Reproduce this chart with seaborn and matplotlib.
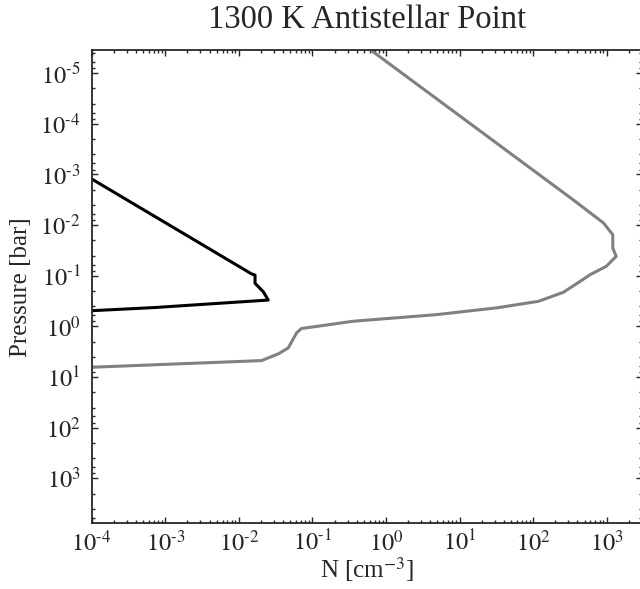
"""
plot.py

Number density profile at the antistellar point (1300 K).
"""

import math

import matplotlib
matplotlib.use("Agg")
import matplotlib.pyplot as plt
import matplotlib.ticker as mticker
import seaborn as sns

# --------------------------------
# data

black_n = [1e-4, 0.0149, 0.0166, 0.0166, 0.0215, 0.0251, 7e-4, 1e-4]
black_p = [1.23e-3, 0.092, 0.097, 0.141, 0.207, 0.302, 0.425, 0.49]

gray_n = [0.62, 353, 906, 1210, 1210, 1345, 985, 597, 436, 258, 118, 32,
          4.9, 0.36, 0.126, 0.071, 0.061, 0.047, 0.035, 0.0204, 1e-4]
gray_p = [3.5e-6, 3.2e-3, 9.1e-3, 0.0155, 0.0283, 0.0414, 0.0653, 0.095,
          0.129, 0.212, 0.32, 0.43, 0.585, 0.79, 0.98, 1.1, 1.34, 2.65,
          3.44, 4.73, 6.4]

x_ticks = [1e-4, 1e-3, 1e-2, 1e-1, 1e0, 1e1, 1e2, 1e3]
y_ticks = [1e-5, 1e-4, 1e-3, 1e-2, 1e-1, 1e0, 1e1, 1e2, 1e3]

x_limits = (1e-4, 3e3)
y_limits = (7.7e3, 3.5e-6)

title = "1300 K Antistellar Point"
x_label = r"N [cm$^{-3}$]"
y_label = "Pressure [bar]"

# --------------------------------

sns.set_style("ticks")
plt.rcParams["font.family"] = ["Liberation Serif", "DejaVu Serif"]
plt.rcParams["mathtext.fontset"] = "stix"


def power_label(v, pos):
    return r"$10^{\text{%d}}$" % round(math.log10(v))


fig = plt.figure(figsize=(6.4, 5.89), dpi=100)
ax = fig.add_axes([91.7 / 640, 65.7 / 589, 550.1 / 640, 473.3 / 589])

sns.lineplot(x=gray_n, y=gray_p, sort=False, estimator=None,
             color="#808080", linewidth=2.2, ax=ax)
sns.lineplot(x=black_n, y=black_p, sort=False, estimator=None,
             color="black", linewidth=2.2, ax=ax)

ax.set_xscale("log")
ax.set_yscale("log")
ax.set_xlim(*x_limits)
ax.set_ylim(*y_limits)

ax.xaxis.set_major_locator(mticker.FixedLocator(x_ticks))
ax.xaxis.set_minor_locator(mticker.LogLocator(base=10, subs=range(2, 10), numticks=20))
ax.yaxis.set_major_locator(mticker.FixedLocator(y_ticks))
ax.yaxis.set_minor_locator(mticker.LogLocator(base=10, subs=(2, 4, 6, 8), numticks=20))

ax.xaxis.set_major_formatter(mticker.FuncFormatter(power_label))
ax.yaxis.set_major_formatter(mticker.FuncFormatter(power_label))
ax.xaxis.set_minor_formatter(mticker.NullFormatter())
ax.yaxis.set_minor_formatter(mticker.NullFormatter())

ax.tick_params(which="both", direction="in", top=True, right=True,
               width=1.0, labelsize=17.5)
ax.tick_params(which="major", length=4)
ax.tick_params(which="minor", length=2)
ax.tick_params(axis="x", pad=5)
ax.tick_params(axis="y", pad=8)

for spine in ax.spines.values():
    spine.set_linewidth(1.3)

ax.set_title(title, fontsize=23.5, pad=16)
ax.set_xlabel(x_label, fontsize=18)
ax.set_ylabel(y_label, fontsize=18)
ax.xaxis.set_label_coords(0.5, -0.068)
ax.yaxis.set_label_coords(-0.108, 0.5)

fig.savefig("out.png", dpi=100)
plt.close(fig)
